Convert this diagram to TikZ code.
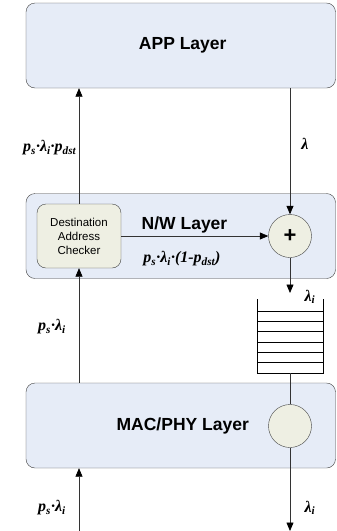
\documentclass[tikz,border=0pt]{standalone}
\usepackage{fontspec}
\setmainfont{Liberation Serif}
\setsansfont{Liberation Sans}
\usetikzlibrary{arrows.meta}
\definecolor{layerblue}{HTML}{E6ECF7}
\definecolor{boxcream}{HTML}{EEEFE3}
\newcommand{\rate}[1]{{\bfseries\itshape #1}}
\newcommand{\lsub}[1]{\textsubscript{#1}}
\tikzset{
  layer/.style={draw=black!75, fill=layerblue, rounded corners=9pt, inner sep=0pt,
    minimum width=309.5pt, minimum height=85pt,
    font=\sffamily\bfseries\fontsize{17.5}{20}\selectfont},
  checkbox/.style={draw=black!75, fill=boxcream, rounded corners=9pt, inner sep=0pt,
    minimum width=84pt, minimum height=64pt, align=center,
    font=\sffamily\fontsize{11.5}{14}\selectfont},
  server/.style={circle, draw=black!75, fill=boxcream, minimum size=43pt, inner sep=0pt,
    font=\sffamily\bfseries\fontsize{22}{22}\selectfont},
  flow/.style={draw=black!80, line width=0.7pt, -{Triangle[length=8.5pt,width=7pt,color=black]}},
  plain/.style={draw=black!80, line width=0.7pt},
  rlabel/.style={font=\fontsize{16}{18}\selectfont, inner sep=0pt}
}
\begin{document}
\begin{tikzpicture}[x=1pt,y=-1pt]
  \useasboundingbox (0,0) rectangle (337,531);
  % layers
  \node[layer] (app) at (180.75,45.5) {\hspace*{4pt}APP Layer};
  \node[layer] (nw) at (180.75,236) {};
  \node[layer] (mac) at (180.75,425.5) {\hspace*{4pt}MAC/PHY Layer};
  \node[font=\sffamily\bfseries\fontsize{17.5}{20}\selectfont] (nwtitle) at (184.5,225) {N/W Layer};
  \node[checkbox] (checker) at (79,236) {Destination\\Address\\Checker};
  \node[server] (sum) at (290,236) {+};
  \node[server] (srv) at (290,426) {};
  % queue
  \coordinate (qtop) at (290,299);
  \coordinate (qbot) at (290,373);
  \draw[line width=0.8pt] (257,299) -- (257,373) -- (323,373) -- (323,299);
  \foreach \y in {311,321.3,331.7,342,352.3,362.7}
    \draw[line width=0.8pt] (257,\y) -- (323,\y);
  \coordinate (qin) at (290,293);
  \coordinate (out) at (290,531);
  \coordinate (in) at (79,531);
  % flows
  \draw[flow] (checker.north) -- (checker.north |- app.south);
  \draw[flow] (sum.north |- app.south) -- (sum.north);
  \draw[flow] (checker.east) -- (sum.west);
  \draw[flow] (sum.south) -- (qin);
  \draw[plain] (qbot) -- (srv.north);
  \draw[flow] (srv.south) -- (out);
  \draw[flow] (checker.south |- mac.north) -- (checker.south);
  \draw[flow] (in) -- (in |- mac.south);
  % rates
  \node[rlabel, anchor=east] (lup) at (76.5,148) {\rate{p\lsub{s}·λ\lsub{i}·p\lsub{dst}}};
  \node[rlabel] (lin) at (305,144) {\rate{λ}};
  \node[rlabel] (lfwd) at (182,259) {\rate{p\lsub{s}·λ\lsub{i}·(1-p\lsub{dst})}};
  \node[rlabel] (lq) at (310,297) {\rate{λ\lsub{i}}};
  \node[rlabel] (lmac) at (52,327) {\rate{p\lsub{s}·λ\lsub{i}}};
  \node[rlabel] (lbot) at (52,508) {\rate{p\lsub{s}·λ\lsub{i}}};
  \node[rlabel] (lout) at (310,508) {\rate{λ\lsub{i}}};
\end{tikzpicture}
\end{document}
